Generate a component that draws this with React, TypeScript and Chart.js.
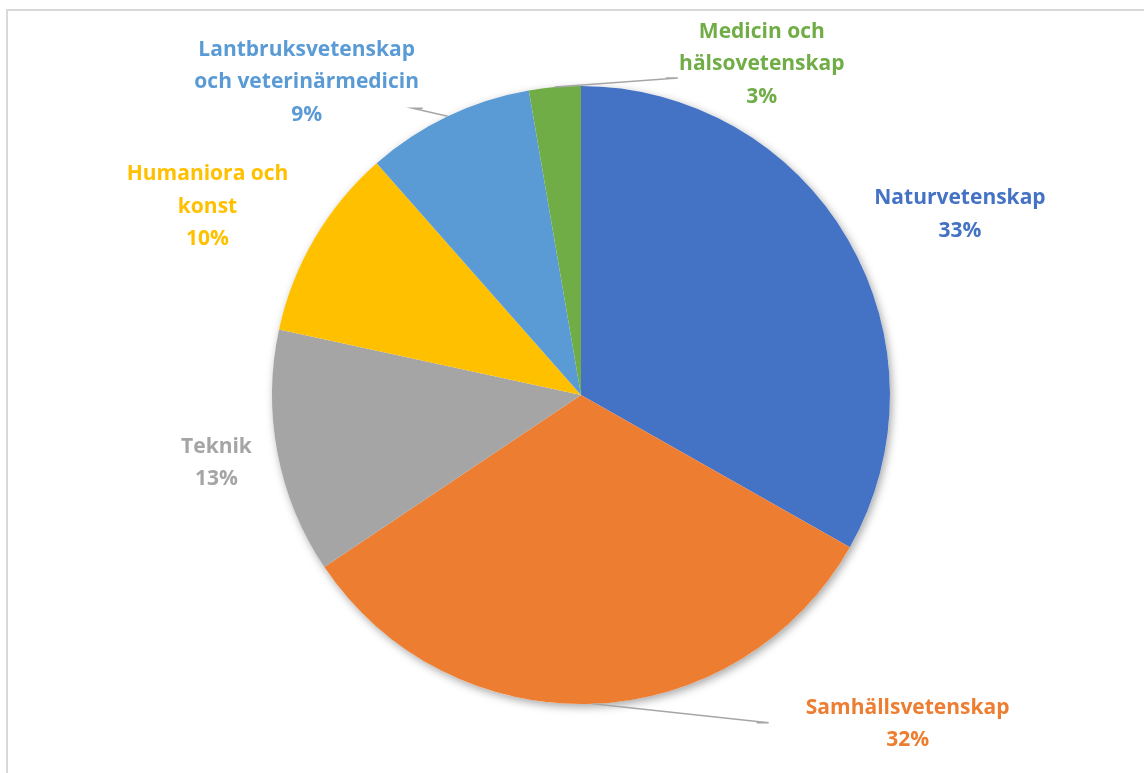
import React, { useEffect, useRef } from "react";
import { Chart, registerables } from "chart.js";

Chart.register(...registerables);

// ---- data ----
const categories = [
  "Naturvetenskap",
  "Samhällsvetenskap",
  "Teknik",
  "Humaniora och konst",
  "Lantbruksvetenskap och veterinärmedicin",
  "Medicin och hälsovetenskap",
];
const labelLines = [
  ["Naturvetenskap"],
  ["Samhällsvetenskap"],
  ["Teknik"],
  ["Humaniora och", "konst"],
  ["Lantbruksvetenskap", "och veterinärmedicin"],
  ["Medicin och", "hälsovetenskap"],
];
const shares = [33.2, 32.4, 12.8, 10.1, 8.8, 2.7];
const sliceColors = ["#4472C4", "#ED7D31", "#A5A5A5", "#FFC000", "#5B9BD5", "#70AD47"];

// ---- label layout (offset of label centre from slice's outer mid point) ----
const labelOffsets = [
  { dx: 112, dy: -25 },
  { dx: 315, dy: 20 },
  { dx: -61, dy: 10 },
  { dx: -107, dy: -32 },
  { dx: -141, dy: -34 },
  { dx: 207, dy: -23 },
];
// leader end relative to label centre, elbow horizontal length (signed)
const leaders: ({ ex: number; ey: number; elbow: number } | null)[] = [
  null,
  { ex: -151, ey: -1, elbow: -12 },
  null,
  null,
  { ex: 116, ey: 26, elbow: 10 },
  { ex: -96, ey: 14, elbow: -12 },
];

const FONT = "bold 21px 'Open Sans', Lato, sans-serif";
const LINE_H = 32.5;

const framePlugin = {
  id: "frame",
  beforeDraw(chart: any) {
    const ctx = chart.ctx;
    ctx.save();
    ctx.strokeStyle = "#d9d9d9";
    ctx.lineWidth = 2;
    ctx.strokeRect(7, 10, chart.width + 20, chart.height + 20);
    ctx.restore();
  },
};

const shadowPlugin = {
  id: "pieShadow",
  beforeDatasetsDraw(chart: any) {
    const meta = chart.getDatasetMeta(0);
    const arc = meta.data[0];
    if (!arc) return;
    const { x, y, outerRadius } = arc.getProps(["x", "y", "outerRadius"], true);
    const ctx = chart.ctx;
    ctx.save();
    ctx.shadowColor = "rgba(0,0,0,0.35)";
    ctx.shadowBlur = 9;
    ctx.shadowOffsetX = 2;
    ctx.shadowOffsetY = 3;
    ctx.fillStyle = "#ffffff";
    ctx.beginPath();
    ctx.arc(x, y, outerRadius, 0, Math.PI * 2);
    ctx.fill();
    ctx.restore();
  },
};

const labelPlugin = {
  id: "outLabels",
  afterDatasetsDraw(chart: any) {
    const meta = chart.getDatasetMeta(0);
    const ctx = chart.ctx;
    const values = chart.data.datasets[0].data as number[];
    meta.data.forEach((arc: any, i: number) => {
      const { x, y, startAngle, endAngle, outerRadius } = arc.getProps(
        ["x", "y", "startAngle", "endAngle", "outerRadius"],
        true
      );
      const mid = (startAngle + endAngle) / 2;
      const px = x + Math.cos(mid) * outerRadius;
      const py = y + Math.sin(mid) * outerRadius;
      const lx = px + labelOffsets[i].dx;
      const ly = py + labelOffsets[i].dy;
      const ld = leaders[i];
      ctx.save();
      if (ld) {
        const endX = lx + ld.ex;
        const endY = ly + ld.ey;
        ctx.strokeStyle = "#a6a6a6";
        ctx.lineWidth = 1.5;
        ctx.beginPath();
        ctx.moveTo(px, py);
        ctx.lineTo(endX - ld.elbow, endY);
        ctx.lineTo(endX, endY);
        ctx.stroke();
      }
      const lines = [...labelLines[i], Math.round(values[i]) + "%"];
      ctx.font = FONT;
      ctx.fillStyle = sliceColors[i];
      ctx.textAlign = "center";
      ctx.textBaseline = "middle";
      lines.forEach((t, k) => {
        ctx.fillText(t, lx, ly + (k - (lines.length - 1) / 2) * LINE_H);
      });
      ctx.restore();
    });
  },
};

export default function App() {
  const ref = useRef<HTMLCanvasElement | null>(null);
  useEffect(() => {
    document.body.style.margin = "0";
    if (!ref.current) return;
    const chart = new Chart(ref.current, {
      type: "pie",
      data: {
        labels: categories,
        datasets: [
          {
            data: shares,
            backgroundColor: sliceColors,
            borderWidth: 0,
          },
        ],
      },
      options: {
        responsive: false,
        animation: false,
        layout: { padding: { top: 86, bottom: 69, left: 18, right: 0 } },
        plugins: {
          legend: { display: false },
          tooltip: { enabled: false },
        },
      },
      plugins: [framePlugin, shadowPlugin, labelPlugin],
    });
    return () => chart.destroy();
  }, []);
  return (
    <div style={{ width: 1144, height: 773, background: "#fff" }}>
      <canvas ref={ref} width={1144} height={773} style={{ display: "block" }} />
    </div>
  );
}
